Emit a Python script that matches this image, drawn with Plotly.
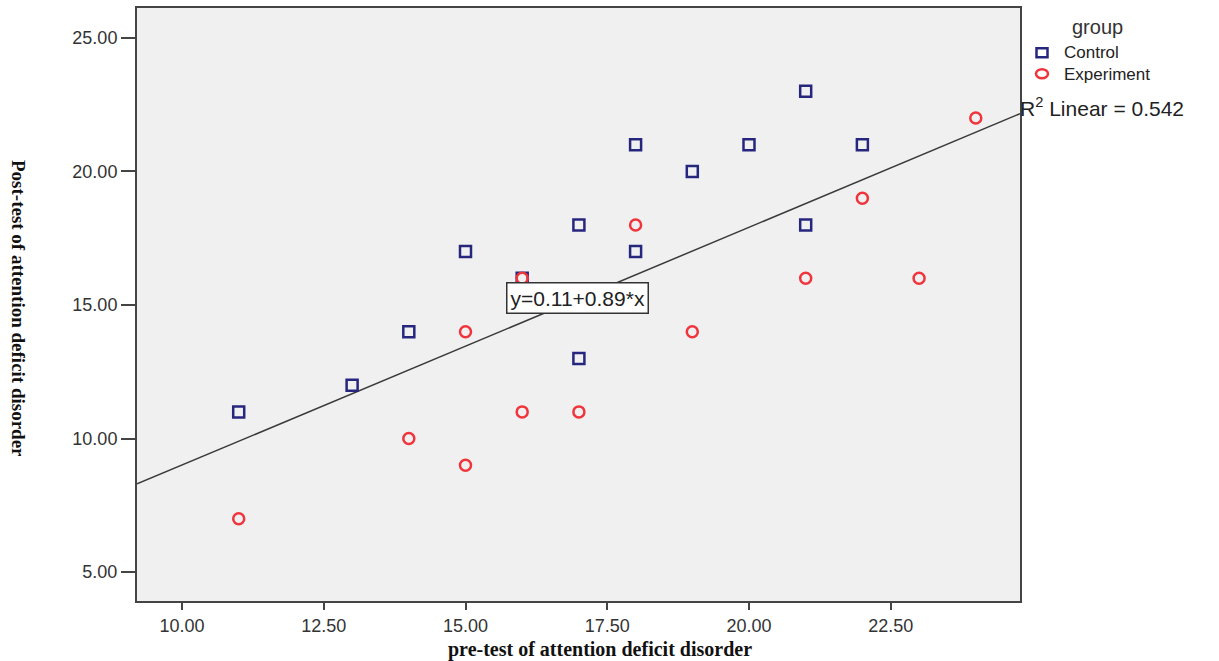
import plotly.graph_objects as go

# Data
control_x = [11, 13, 14, 15, 16, 17, 17, 18, 18, 19, 20, 21, 21, 22]
control_y = [11, 12, 14, 17, 16, 18, 13, 21, 17, 20, 21, 23, 18, 21]
exp_x = [11, 14, 15, 15, 16, 16, 17, 18, 19, 21, 22, 23, 24]
exp_y = [7, 10, 14, 9, 16, 11, 11, 18, 14, 16, 19, 16, 22]
intercept = 0.11
slope = 0.89
r2 = 0.542
x_ticks = [10.0, 12.5, 15.0, 17.5, 20.0, 22.5]
y_ticks = [5.0, 10.0, 15.0, 20.0, 25.0]
groups = ["Control", "Experiment"]

x_range = [9.206, 24.78]
y_range = [3.92, 26.12]

NAVY = "#26267F"
RED = "#F0343C"

# plot area in pixels
L, R, T, B = 137, 1020, 6, 601
W, H = R - L, B - T


def px(xp):
    return (xp - L) / W


def py(yp):
    return (B - yp) / H


fig = go.Figure()

line_x = x_range
line_y = [intercept + slope * v for v in line_x]
fig.add_trace(go.Scatter(x=line_x, y=line_y, mode="lines",
                         line=dict(color="#3a3a3a", width=1.5),
                         showlegend=False, hoverinfo="skip"))

fig.add_trace(go.Scatter(x=control_x, y=control_y, mode="markers", name=groups[0],
                         showlegend=False,
                         marker=dict(symbol="square-open", size=11, color=NAVY,
                                     line=dict(width=2.5, color=NAVY))))
fig.add_trace(go.Scatter(x=exp_x, y=exp_y, mode="markers", name=groups[1],
                         showlegend=False,
                         marker=dict(symbol="circle-open", size=11, color=RED,
                                     line=dict(width=2.5, color=RED))))

tickfont = dict(family="Liberation Sans, Arial", size=18, color="#333333")

fig.update_layout(
    width=1219, height=661,
    margin=dict(l=L, r=1219 - R, t=T, b=661 - B),
    paper_bgcolor="white",
    plot_bgcolor="#F0F0F0",
    xaxis=dict(range=x_range, tickvals=x_ticks,
               ticktext=[f"{v:.2f}" for v in x_ticks],
               showgrid=False, zeroline=False, showline=True, mirror=True,
               linecolor="#444444", linewidth=2, ticks="outside", ticklen=7,
               tickwidth=2, tickcolor="#444444", tickfont=tickfont),
    yaxis=dict(range=y_range, tickvals=y_ticks,
               ticktext=[f"{v:.2f}" for v in y_ticks],
               showgrid=False, zeroline=False, showline=True, mirror=True,
               linecolor="#444444", linewidth=2, ticks="outside", ticklen=14,
               tickwidth=2, tickcolor="#444444", tickfont=tickfont),
    showlegend=False,
)

# legend drawn manually
fig.add_shape(type="rect", xref="paper", yref="paper", xsizemode="pixel", ysizemode="pixel",
              xanchor=px(1042), yanchor=py(51), x0=-5.5, x1=5.5, y0=-4.5, y1=4.5,
              line=dict(color=NAVY, width=2.5), fillcolor="rgba(0,0,0,0)")
fig.add_shape(type="circle", xref="paper", yref="paper", xsizemode="pixel", ysizemode="pixel",
              xanchor=px(1042), yanchor=py(72), x0=-6, x1=6, y0=-4.5, y1=4.5,
              line=dict(color=RED, width=2.5), fillcolor="rgba(0,0,0,0)")
legfont = dict(family="Liberation Sans, Arial", size=17, color="#222222")
fig.add_annotation(text=groups[0], xref="paper", yref="paper", x=px(1062), y=py(51),
                   xanchor="left", yanchor="middle", showarrow=False, font=legfont)
fig.add_annotation(text=groups[1], xref="paper", yref="paper", x=px(1062), y=py(73),
                   xanchor="left", yanchor="middle", showarrow=False, font=legfont)
fig.add_annotation(text="group", xref="paper", yref="paper", x=px(1070), y=py(25),
                   xanchor="left", yanchor="middle", showarrow=False,
                   font=dict(family="Liberation Sans, Arial", size=20, color="#333333"))

titlefont = dict(family="Liberation Serif, Times New Roman", size=20, color="#111111")
fig.add_annotation(text="<b>pre-test of attention deficit disorder</b>",
                   xref="paper", yref="paper", x=px(600), y=py(650),
                   xanchor="center", yanchor="middle", showarrow=False, font=titlefont)
fig.add_annotation(text="<b>Post-test of attention deficit disorder</b>",
                   xref="paper", yref="paper", x=px(18), y=py(307),
                   xanchor="center", yanchor="middle", textangle=90,
                   showarrow=False,
                   font=dict(family="Liberation Serif, Times New Roman", size=19, color="#111111"))
fig.add_annotation(text=f"R<sup>2</sup> Linear = {r2}", xref="paper", yref="paper",
                   x=px(1018), y=py(105), xanchor="left",
                   yanchor="middle", showarrow=False,
                   font=dict(family="Liberation Sans, Arial", size=21, color="#222222"))
fig.add_annotation(text=f"y={intercept}+{slope}*x", x=16.97, y=15.26,
                   xanchor="center", yanchor="middle", showarrow=False,
                   bgcolor="white", bordercolor="#333333", borderwidth=1.5, borderpad=3,
                   font=dict(family="Liberation Sans, Arial", size=21, color="#222222"))

fig.write_html("out.html")
